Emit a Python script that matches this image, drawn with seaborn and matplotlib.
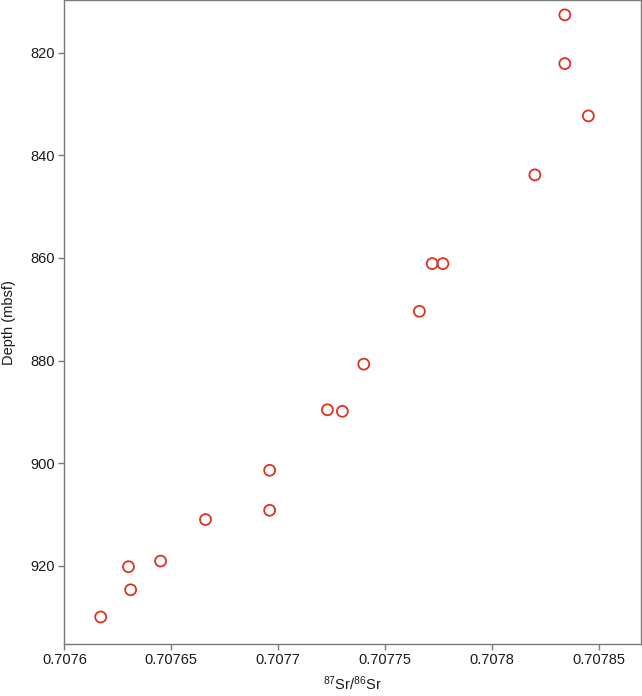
import pandas as pd
import matplotlib
matplotlib.use('Agg')
import matplotlib.pyplot as plt
import seaborn as sns

# 87Sr/86Sr ratio vs depth
sr_ratio = [0.707834, 0.707834, 0.707845, 0.707820, 0.707772, 0.707777,
            0.707766, 0.707740, 0.707723, 0.707730, 0.707696, 0.707696,
            0.707666, 0.707645, 0.707630, 0.707631, 0.707617]
depth = [812.6, 822.1, 832.3, 843.8, 861.1, 861.1,
         870.4, 880.7, 889.6, 889.9, 901.4, 909.2,
         911.0, 919.1, 920.2, 924.7, 930.0]

x_ticks = [0.7076, 0.70765, 0.7077, 0.70775, 0.7078, 0.70785]
x_tick_labels = ['0.7076', '0.70765', '0.7077', '0.70775', '0.7078', '0.70785']
y_ticks = [820, 840, 860, 880, 900, 920]

df = pd.DataFrame({'sr': sr_ratio, 'depth': depth})

sns.set_style('white')
plt.rcParams['font.family'] = ['Liberation Sans', 'DejaVu Sans']
plt.rcParams['mathtext.default'] = 'regular'

fig = plt.figure(figsize=(6.42, 6.96), dpi=100)
ax = fig.add_axes([0.1002, 0.0752, 0.8982, 0.9241])

red = '#e03020'
sns.scatterplot(data=df, x='sr', y='depth', ax=ax, marker='o', s=62,
                color=red, facecolor='none', edgecolor=red, linewidth=1.3)

ax.set_xlim(0.7076, 0.7078696)
ax.set_ylim(935.2, 809.8)
ax.set_xticks(x_ticks)
ax.set_xticklabels(x_tick_labels)
ax.set_yticks(y_ticks)

for side in ['left', 'bottom', 'top', 'right']:
    ax.spines[side].set_color('#7a7a7a')
    ax.spines[side].set_linewidth(1.0)

ax.tick_params(axis='both', which='both', direction='out', length=4, width=1,
               color='#7a7a7a', labelsize=10.5, labelcolor='#1a1a1a', pad=3,
               bottom=True, left=True)

ax.set_xlabel(r'$^{87}$Sr/$^{86}$Sr', fontsize=10.5, color='#1a1a1a', labelpad=5)
ax.set_ylabel('Depth (mbsf)', fontsize=10.5, color='#1a1a1a', labelpad=10)

fig.savefig('out.png', dpi=100)
